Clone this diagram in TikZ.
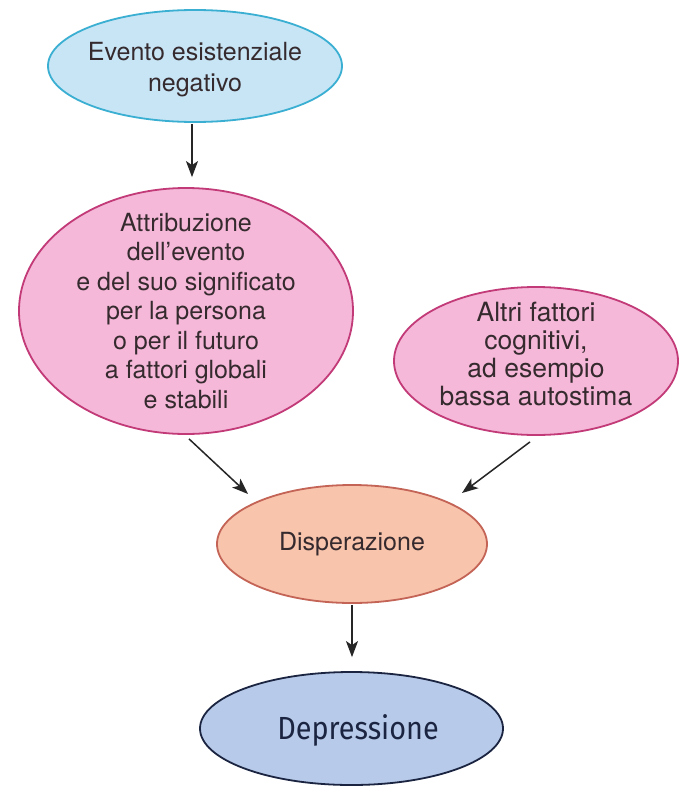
\documentclass[tikz,border=0pt]{standalone}
\usepackage{fontspec}
\setmainfont{TeX Gyre Heros}
\newfontfamily\dinfont[FakeStretch=0.9]{Fira Sans}
\usetikzlibrary{shapes.geometric,arrows.meta}
\definecolor{blueFill}{HTML}{C8E5F6}
\definecolor{blueLine}{HTML}{3AAFD2}
\definecolor{pinkFill}{HTML}{F5B8D8}
\definecolor{pinkLine}{HTML}{C23A78}
\definecolor{peachFill}{HTML}{F8C4AC}
\definecolor{peachLine}{HTML}{C46456}
\definecolor{lavFill}{HTML}{B7CAE9}
\definecolor{navyLine}{HTML}{1B2541}
\definecolor{txt}{HTML}{352A2E}
\tikzset{
  bubble/.style={ellipse, line width=1.8pt, inner sep=0pt},
  caption/.style={inner sep=0pt, text=txt, align=center},
  link/.style={-{Stealth[length=16pt,width=12pt,inset=4pt]}, line width=1.5pt, color=black!85}
}
\begin{document}
\begin{tikzpicture}[x=1pt,y=-1pt]
\useasboundingbox (0,0) rectangle (687,787);
\fill[white] (0,0) rectangle (687,787);

% bubbles
\node[bubble, draw=blueLine, fill=blueFill, minimum width=294pt, minimum height=112pt] (evento) at (195,66) {};
\node[bubble, draw=pinkLine, fill=pinkFill, minimum width=334pt, minimum height=246pt] (attr) at (186,311) {};
\node[bubble, draw=pinkLine, fill=pinkFill, minimum width=284pt, minimum height=148pt] (altri) at (536,361) {};
\node[bubble, draw=peachLine, fill=peachFill, minimum width=270pt, minimum height=118pt] (disp) at (352,544) {};
\node[bubble, draw=navyLine, fill=lavFill, minimum width=303pt, minimum height=113pt] (depr) at (351.5,728.5) {};

% captions
\node[caption, font=\fontsize{25}{31}\selectfont] (eventoT) at ([yshift=-4pt]evento.center)
  {Evento esistenziale\\negativo};
\node[caption, font=\fontsize{25}{29.5}\selectfont] (attrT) at (attr.center)
  {Attribuzione\\dell'evento\\e del suo significato\\per la persona\\o per il futuro\\a fattori globali\\e stabili};
\node[caption, font=\fontsize{26.5}{27.7}\selectfont] (altriT) at ([yshift=7pt]altri.center)
  {Altri fattori\\cognitivi,\\ad esempio\\bassa autostima};
\node[caption, font=\fontsize{25}{30}\selectfont] (dispT) at (disp.center) {Disperazione};
\node[caption, text=navyLine, font=\dinfont\fontsize{32}{36}\selectfont] (deprT) at ([xshift=6.5pt,yshift=-2pt]depr.center)
  {Depressione};

% connectors
\draw[link] ([xshift=-3pt,yshift=-1pt]evento.south) -- ([xshift=6pt,yshift=10pt]attr.north);
\draw[link] ([xshift=3pt,yshift=-4pt]attr.south) -- ([xshift=-104pt,yshift=50pt]disp.center);
\draw[link] ([xshift=-6pt,yshift=-6pt]altri.south) -- ([xshift=110pt,yshift=51pt]disp.center);
\draw[link] ([yshift=-1pt]disp.south) -- ([xshift=0.5pt,yshift=14pt]depr.north);
\end{tikzpicture}
\end{document}
